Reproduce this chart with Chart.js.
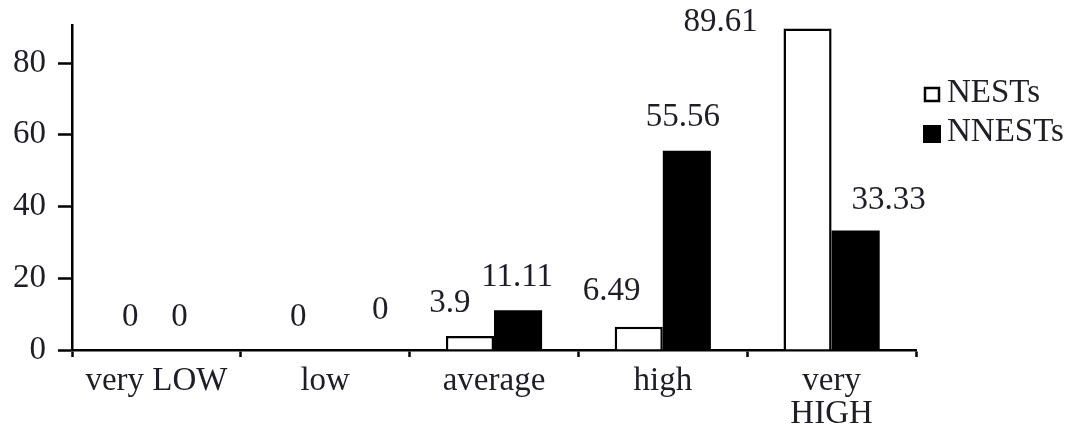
<!DOCTYPE html>
<html>
<head>
<meta charset="utf-8">
<script src="https://cdn.jsdelivr.net/npm/chart.js@4/dist/chart.umd.min.js"></script>
<style>
  html, body { margin: 0; padding: 0; background: #ffffff; }
  #wrap { position: relative; width: 1080px; height: 428px; }
</style>
</head>
<body>
<div id="wrap"><canvas id="chart"></canvas></div>
<script>
// Rating categories and the percentage of each teacher group per category
const categories = ['very LOW', 'low', 'average', 'high', ['very', 'HIGH']];
const seriesNames = ['NESTs', 'NNESTs'];
const nestValues = [0, 0, 3.9, 6.49, 89.61];
const nnestValues = [0, 0, 11.11, 55.56, 33.33];
const yTickValues = [0, 20, 40, 60, 80];

// Hand-placed nudges (px) for the value labels, per series and category
const labelNudge = [
  [[-2, 0], [-3, 0], [-20, 0], [-27, -2], [-87, 27]],
  [[-1, 0], [31, -7], [-1, 0], [-4, 0], [33, 3]]
];

const FONT = '"Liberation Serif", "Times New Roman", Times, serif';
const TEXT = '#1e1e28';
const INK = '#000000';

const valueLabels = {
  id: 'valueLabels',
  afterDatasetsDraw(chart) {
    const ctx = chart.ctx;
    ctx.save();
    ctx.font = '33px ' + FONT;
    ctx.fillStyle = TEXT;
    ctx.textAlign = 'center';
    ctx.textBaseline = 'middle';
    chart.data.datasets.forEach((ds, di) => {
      chart.getDatasetMeta(di).data.forEach((bar, i) => {
        const [dx, dy] = labelNudge[di][i];
        ctx.fillText(String(ds.data[i]), bar.x + dx, bar.y - 33 + dy);
      });
    });
    ctx.restore();
  }
};

// Legend to the right of the plot: outlined box for the hollow series, solid square for the filled one
const sideLegend = {
  id: 'sideLegend',
  afterDraw(chart) {
    const ctx = chart.ctx;
    const cx = chart.chartArea.right + 16;
    const rows = [94, 133];
    ctx.save();
    ctx.font = '33px ' + FONT;
    ctx.textBaseline = 'middle';
    ctx.textAlign = 'left';
    chart.data.datasets.forEach((ds, i) => {
      const y = rows[i];
      if (ds.borderWidth > 0) {
        ctx.fillStyle = ds.backgroundColor;
        ctx.fillRect(cx - 7, y - 6, 14, 13);
        ctx.lineWidth = 2.5;
        ctx.strokeStyle = ds.borderColor;
        ctx.strokeRect(cx - 7, y - 6, 14, 13);
      } else {
        ctx.fillStyle = ds.backgroundColor;
        ctx.fillRect(cx - 9, y - 8, 18, 18);
      }
      ctx.fillStyle = TEXT;
      ctx.fillText(ds.label, cx + 15, y - 1);
    });
    ctx.restore();
  }
};

new Chart(document.getElementById('chart'), {
  type: 'bar',
  data: {
    labels: categories,
    datasets: [
      {
        label: seriesNames[0],
        data: nestValues,
        backgroundColor: '#ffffff',
        borderColor: INK,
        borderWidth: 2.5
      },
      {
        label: seriesNames[1],
        data: nnestValues,
        backgroundColor: INK,
        borderColor: INK,
        borderWidth: 0
      }
    ]
  },
  options: {
    responsive: true,
    maintainAspectRatio: false,
    animation: false,
    devicePixelRatio: 1,
    layout: { padding: { top: 25, right: 164, left: 0, bottom: 0 } },
    datasets: { bar: { categoryPercentage: 0.57, barPercentage: 1.0 } },
    plugins: {
      legend: { display: false },
      tooltip: { enabled: false }
    },
    scales: {
      x: {
        offset: true,
        grid: {
          offset: true,
          drawOnChartArea: false,
          drawTicks: true,
          tickLength: 7,
          tickColor: INK,
          tickWidth: 2.5
        },
        border: { display: true, color: INK, width: 2.5 },
        ticks: {
          color: TEXT,
          font: { family: FONT, size: 33, lineHeight: 0.99 },
          padding: 8,
          maxRotation: 0,
          autoSkip: false
        },
        afterFit(scale) {
          scale.height = 78;
          scale.paddingLeft = 0;
          scale.paddingRight = 0;
        }
      },
      y: {
        min: 0,
        max: 90.6,
        grid: {
          drawOnChartArea: false,
          drawTicks: true,
          tickLength: 14,
          tickColor: INK,
          tickWidth: 2.5
        },
        border: { display: true, color: INK, width: 2.5 },
        ticks: {
          stepSize: 20,
          color: TEXT,
          font: { family: FONT, size: 33 },
          padding: 12
        },
        afterBuildTicks(scale) {
          scale.ticks = yTickValues.map(v => ({ value: v }));
        },
        afterFit(scale) {
          scale.width = 72;
          scale.paddingTop = 0;
          scale.paddingBottom = 0;
        }
      }
    }
  },
  plugins: [valueLabels, sideLegend]
});
</script>
</body>
</html>
